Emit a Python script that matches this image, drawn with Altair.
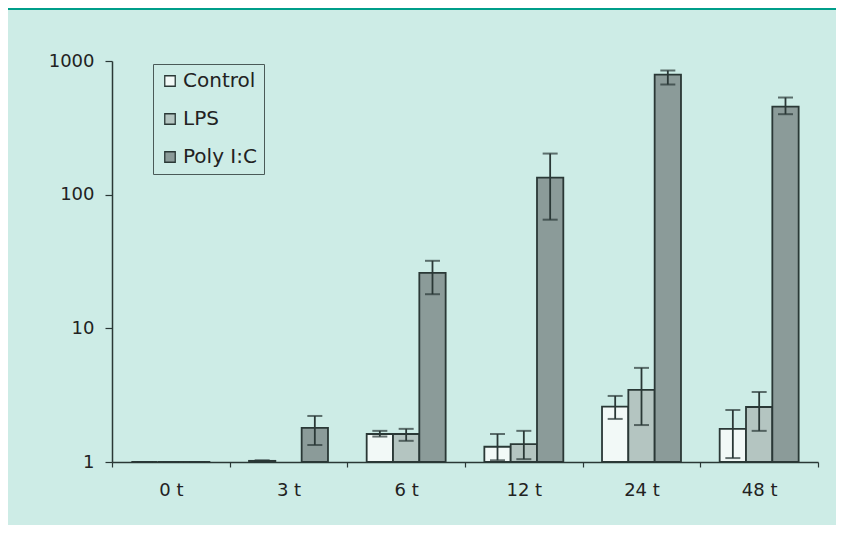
import altair as alt
import pandas as pd

times = ["0 t", "3 t", "6 t", "12 t", "24 t", "48 t"]
series = ["Control", "LPS", "Poly I:C"]

control = [1.0, 1.02, 1.62, 1.3, 2.6, 1.77]
control_low = [1.0, 1.01, 1.55, 1.03, 2.1, 1.07]
control_high = [1.0, 1.03, 1.71, 1.62, 3.12, 2.45]

lps = [1.0, None, 1.62, 1.36, 3.46, 2.58]
lps_low = [1.0, None, 1.44, 1.05, 1.89, 1.71]
lps_high = [1.0, None, 1.77, 1.71, 5.06, 3.34]

poly = [1.0, 1.8, 26.0, 134.0, 790.0, 456.0]
poly_low = [1.0, 1.34, 18.0, 65.0, 667.0, 400.0]
poly_high = [1.0, 2.21, 32.0, 203.0, 849.0, 533.0]

colors = ["#f2f9f7", "#b4c5c1", "#8b9b99"]

rows = []
for s, vals, lows, highs in [
    ("Control", control, control_low, control_high),
    ("LPS", lps, lps_low, lps_high),
    ("Poly I:C", poly, poly_low, poly_high),
]:
    for t, v, lo, hi in zip(times, vals, lows, highs):
        if v is None:
            continue
        rows.append({"time": t, "series": s, "value": v, "low": lo, "high": hi})
df = pd.DataFrame(rows)

FONT = "DejaVu Sans"
INK = "#2a3836"

x_enc = alt.X("time:N", sort=times, scale=alt.Scale(paddingInner=0, paddingOuter=0),
              axis=alt.Axis(title=None, labelAngle=0, tickBand="extent", tickSize=5,
                            labelPadding=14, labelFontSize=18, labelFont=FONT,
                            labelColor="#222", domainColor=INK, tickColor=INK,
                            domainWidth=1.5, tickWidth=1.2))
xo_enc = alt.XOffset("series:N", sort=series,
                     scale=alt.Scale(paddingInner=0, paddingOuter=0.735))

base = alt.Chart(df)

bars = base.mark_bar(stroke=INK, strokeWidth=1.8).encode(
    x=x_enc,
    xOffset=xo_enc,
    y=alt.Y("value:Q", scale=alt.Scale(type="log", domain=[1, 1000]),
            axis=alt.Axis(title=None, values=[1, 10, 100, 1000], format="d", grid=False,
                          tickSize=7, labelPadding=11, labelFontSize=18, labelFont=FONT,
                          labelColor="#222", domainColor=INK, tickColor=INK,
                          domainWidth=1.5, tickWidth=1.2)),
    y2=alt.datum(1),
    fill=alt.Fill("series:N", sort=series,
                  scale=alt.Scale(domain=series, range=colors),
                  legend=alt.Legend(title=None, orient="none", legendX=41, legendY=3,
                                    strokeColor="#4a5a58", padding=7,
                                    symbolType="square", symbolSize=110,
                                    symbolStrokeColor=INK, symbolStrokeWidth=1.3,
                                    labelFontSize=20, labelFont=FONT, labelColor="#222",
                                    labelOffset=3, rowPadding=18)),
)

rules = base.mark_rule(color=INK, strokeWidth=1.8).encode(
    x=alt.X("time:N", sort=times),
    xOffset=alt.XOffset("series:N", sort=series),
    y="low:Q",
    y2="high:Q",
)

cap_low = base.mark_tick(color=INK, size=15, thickness=2).encode(
    x=alt.X("time:N", sort=times),
    xOffset=alt.XOffset("series:N", sort=series),
    y="low:Q",
)
cap_high = base.mark_tick(color=INK, size=15, thickness=2).encode(
    x=alt.X("time:N", sort=times),
    xOffset=alt.XOffset("series:N", sort=series),
    y="high:Q",
)

header = alt.Chart(pd.DataFrame({"a": [0]})).mark_rect(color="#009e8a").encode(
    x=alt.value(-104), x2=alt.value(724), y=alt.value(-53), y2=alt.value(-51)
)

chart = alt.layer(bars, rules, cap_low, cap_high, header).properties(
    width=706,
    height=401,
    autosize=alt.AutoSizeParams(type="none"),
    padding={"left": 104, "top": 53, "right": 18, "bottom": 63},
    background="#cdece6",
).configure_view(stroke=None)

chart.save("out.html", embed_options={"renderer": "svg", "actions": False})
